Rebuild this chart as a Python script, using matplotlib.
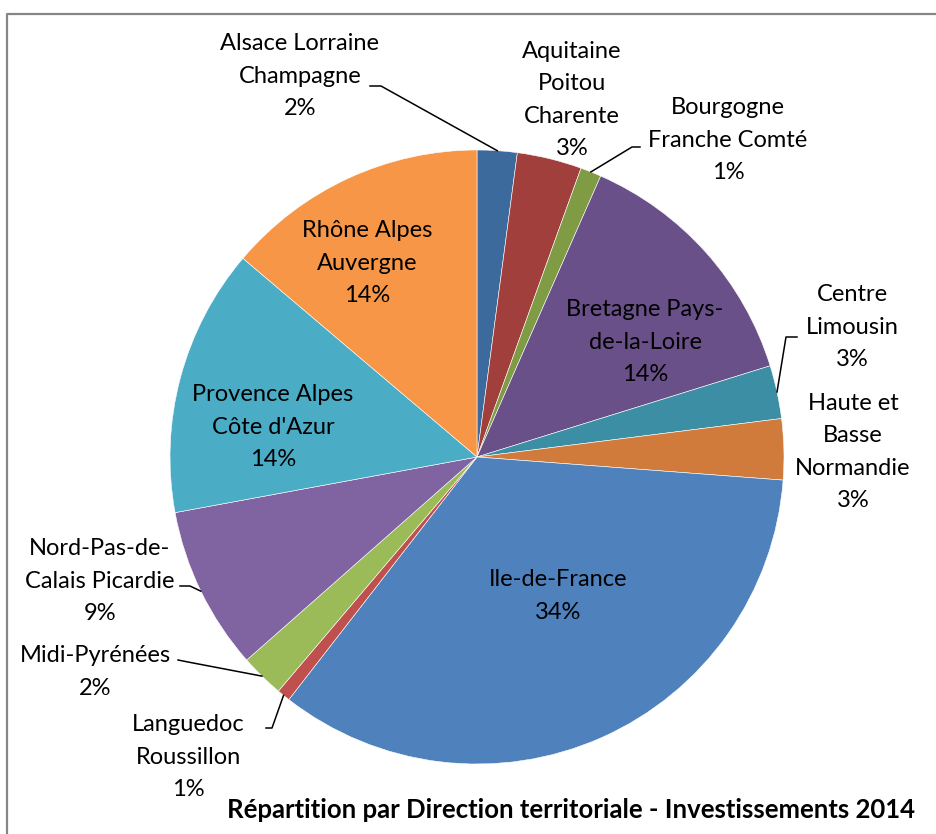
import matplotlib
matplotlib.use("Agg")
import numpy as np
import matplotlib.pyplot as plt

# Données (part des investissements 2014, en %)
regions = [
    "Alsace Lorraine\nChampagne",
    "Aquitaine\nPoitou\nCharente",
    "Bourgogne\nFranche Comté",
    "Bretagne Pays-\nde-la-Loire",
    "Centre\nLimousin",
    "Haute et\nBasse\nNormandie",
    "Ile-de-France",
    "Languedoc\nRoussillon",
    "Midi-Pyrénées",
    "Nord-Pas-de-\nCalais Picardie",
    "Provence Alpes\nCôte d'Azur",
    "Rhône Alpes\nAuvergne",
]
parts = [2.1, 3.4, 1.1, 13.6, 2.8, 3.2, 34.3, 0.7, 2.3, 8.6, 14.1, 13.8]
colors = ["#3D6A9C", "#A03F3C", "#7F9C45", "#6A5088", "#3B8EA3", "#D07B3B",
          "#4F81BD", "#C0504D", "#9BBB59", "#8064A2", "#4BACC6", "#F79646"]
title = "Répartition par Direction territoriale - Investissements 2014"

# mise en page (pixels, origine en haut à gauche)
W, H = 936, 834
CX, CY, R = 477, 457, 307
label_pos = [(300, 76), (572, 100), (728, 140), (645, 342), (852, 327),
             (853, 452), (558, 596), (188, 757), (95, 672), (100, 581),
             (273, 427), (367, 263)]
# coude des lignes de rappel (None = pas de ligne)
elbows = [[(370, 86), (381, 86)], None, [(640, 147), (632, 147)], None,
          [(797, 337), (786, 337)], None, None,
          [(266, 728), (272, 728)], [(178, 660), (188, 662)],
          [(180, 586), (190, 586)], None, None]

plt.rcParams["font.family"] = ["Lato", "DejaVu Sans"]

fig = plt.figure(figsize=(W / 100, H / 100), dpi=100)
ax = fig.add_axes([0, 0, 1, 1])

def Y(y):
    return H - y

wedges, _ = ax.pie(parts, colors=colors, startangle=90, counterclock=False,
                   center=(CX, Y(CY)), radius=R, frame=True,
                   wedgeprops=dict(edgecolor="white", linewidth=0.4))
ax.set_xlim(0, W)
ax.set_ylim(0, H)
ax.set_aspect("auto")
ax.axis("off")

total = sum(parts)
for i, (name, v) in enumerate(zip(regions, parts)):
    lx, ly = label_pos[i]
    ax.text(lx, Y(ly), f"{name}\n{v / total * 100:.0f}%", ha="center",
            va="center", fontsize=17, color="#000000", linespacing=1.67)
    if elbows[i] is not None:
        w = wedges[i]
        mid = np.deg2rad((w.theta1 + w.theta2) / 2)
        px = CX + R * np.cos(mid)
        py = Y(CY) + R * np.sin(mid)
        xs = [p[0] for p in elbows[i]] + [px]
        ys = [Y(p[1]) for p in elbows[i]] + [py]
        ax.plot(xs, ys, color="black", linewidth=1.1)

ax.text(571, Y(810), title, ha="center", va="center", fontsize=18.5,
        fontweight="bold", color="#000000")

# cadre gris du graphique
ax.plot([7, 7, W + 5], [-5, Y(14), Y(14)], color="#868686", linewidth=1.6,
        clip_on=False)

fig.savefig("out.png", dpi=100, facecolor="white")
